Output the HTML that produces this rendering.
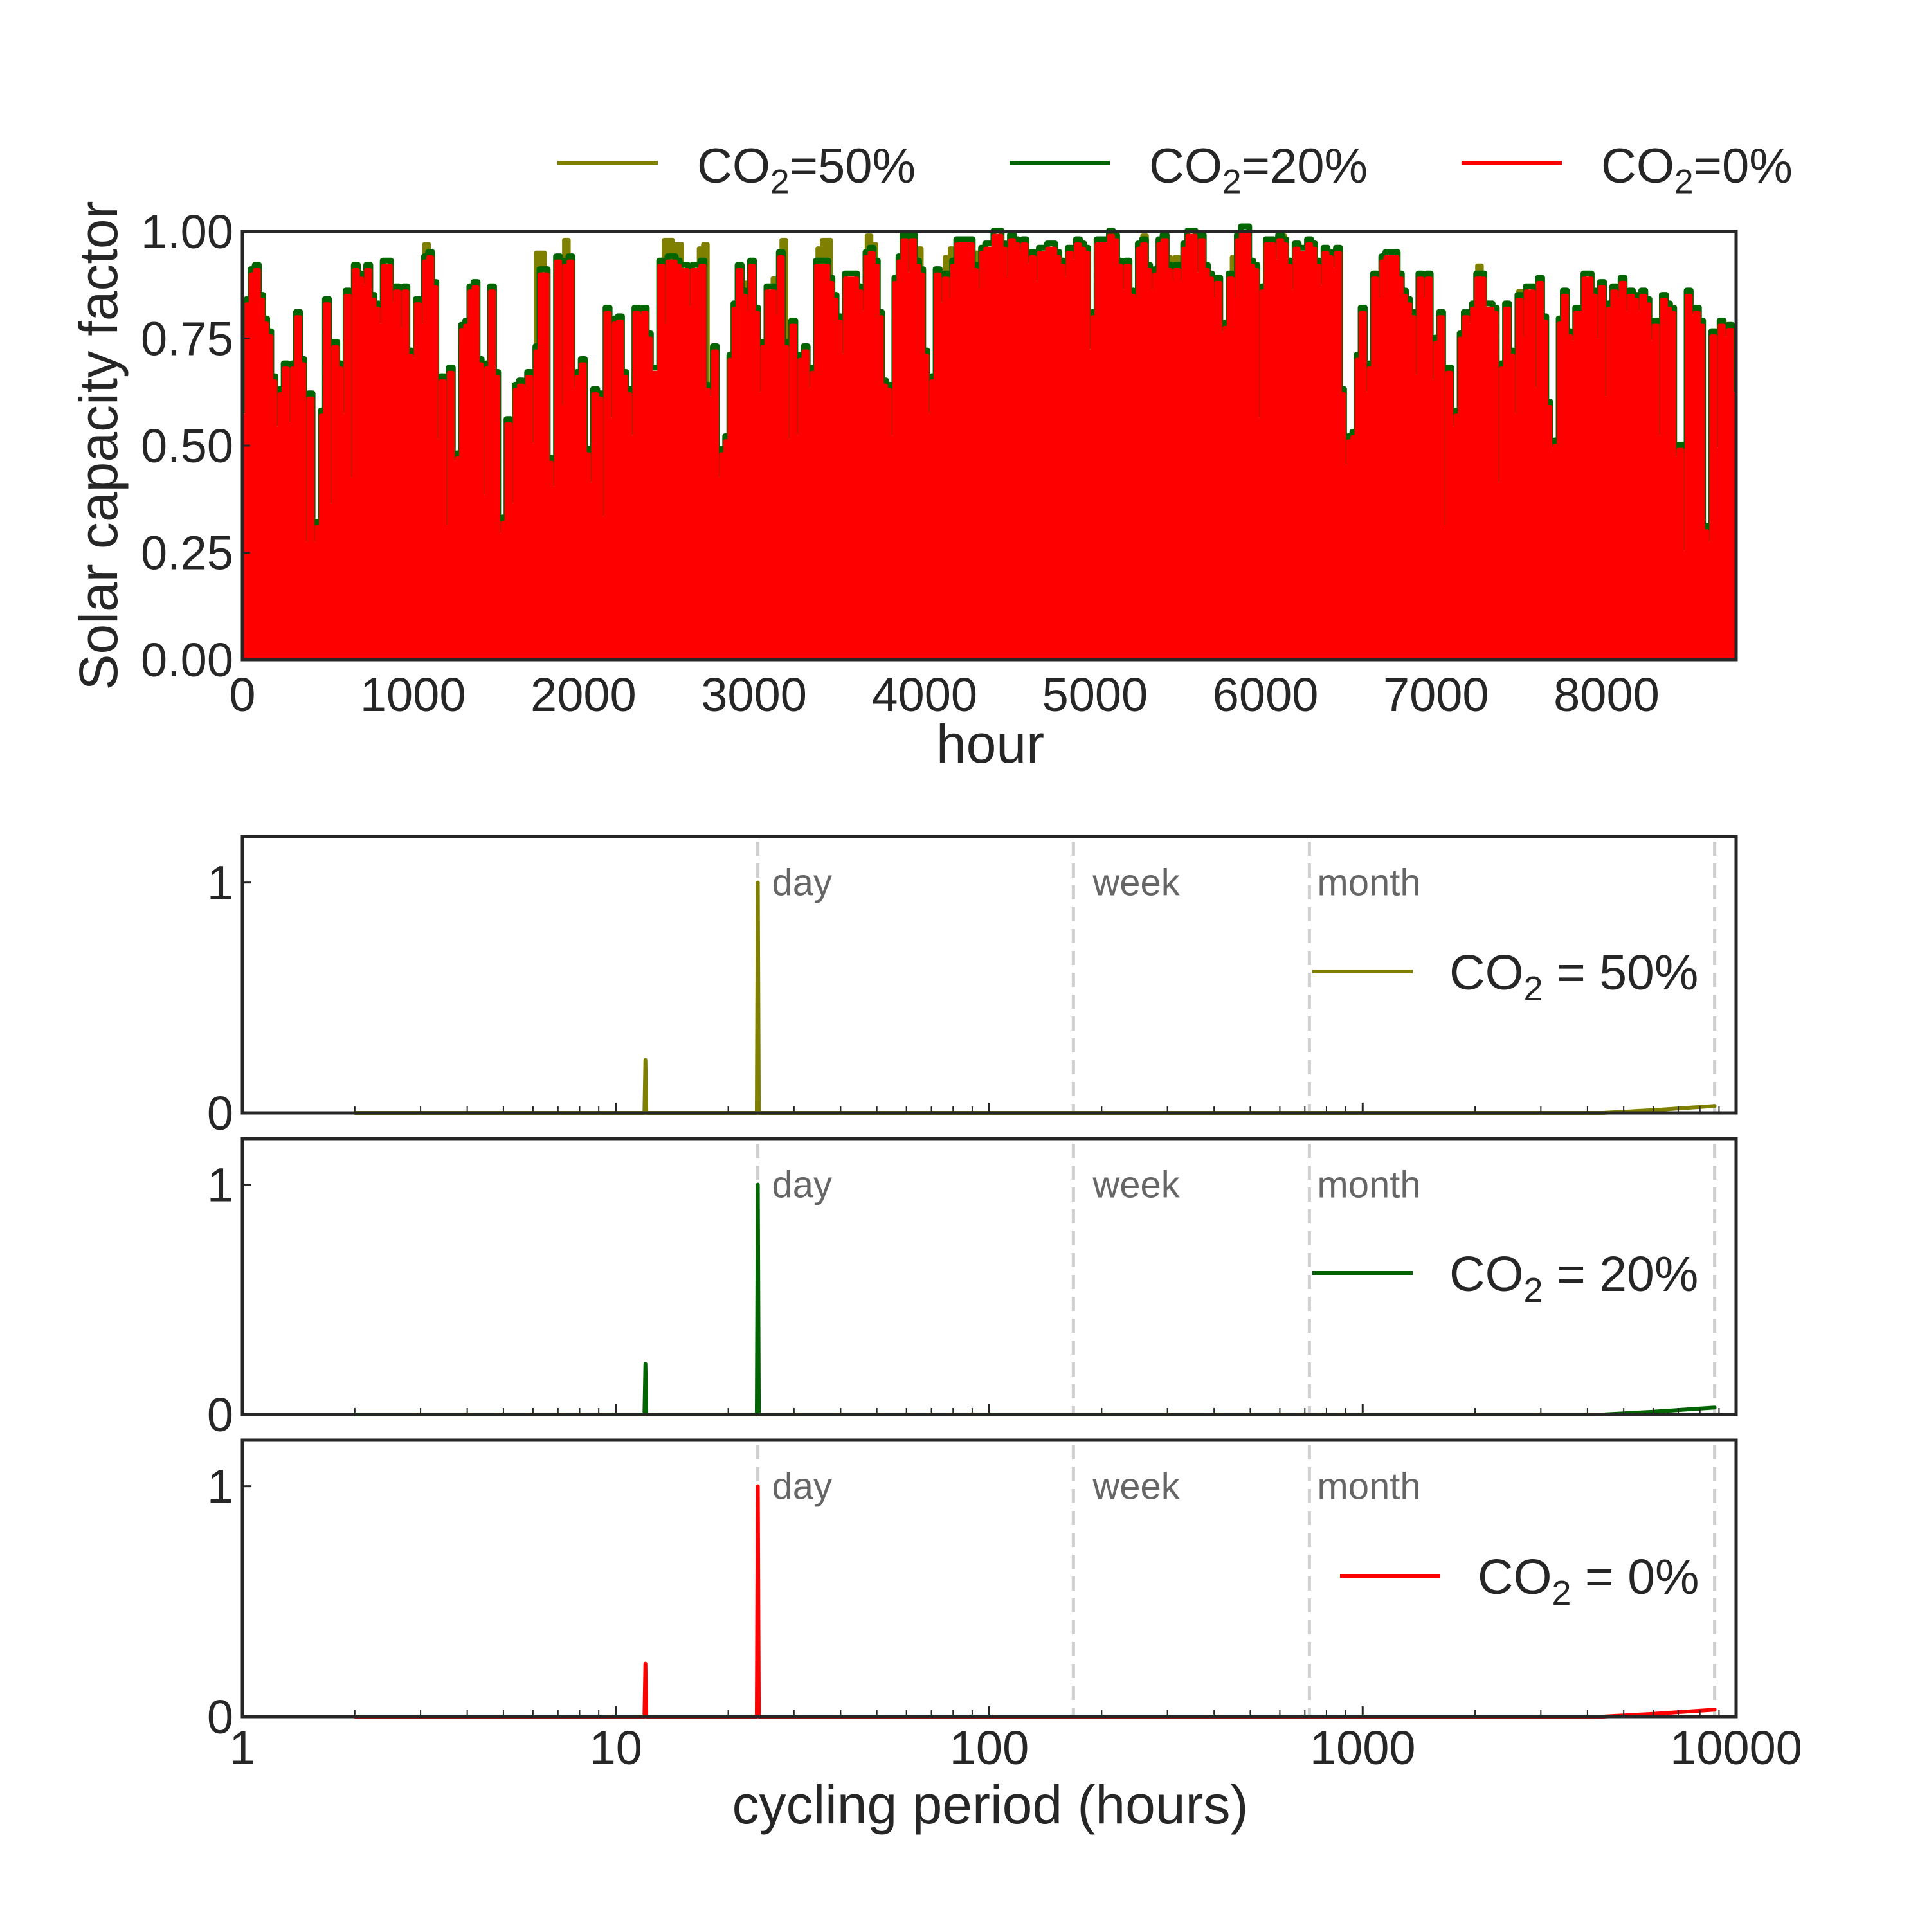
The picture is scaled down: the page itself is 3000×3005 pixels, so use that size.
<!DOCTYPE html>
<html><head><meta charset="utf-8"><style>
html,body{margin:0;padding:0;background:#fff;}
svg text{font-family:"Liberation Sans","DejaVu Sans",sans-serif;fill:#262626;}
</style></head><body>
<svg id="chart" xmlns="http://www.w3.org/2000/svg" width="3000" height="3000" viewBox="0 0 3000 3000">
<rect width="3000" height="3000" fill="#fff"/>
<g id="topchart"></g><g id="bottom"></g>
</svg>
<script>
// ---- data: daily capacity factor (CO2=0%), ~24h steps ----
const cf0 = [0.57,0.83,0.90,0.91,0.84,0.785,0.755,0.65,0.54,0.62,0.68,0.55,0.68,0.80,0.69,0.27,0.61,0.27,0.31,0.57,0.83,0.36,0.73,0.68,0.57,0.85,0.42,0.91,0.89,0.87,0.91,0.84,0.82,0.78,0.92,0.92,0.83,0.86,0.77,0.86,0.71,0.70,0.83,0.78,0.93,0.94,0.87,0.51,0.65,0.31,0.67,0.46,0.47,0.77,0.78,0.86,0.87,0.69,0.38,0.68,0.86,0.66,0.29,0.32,0.55,0.36,0.63,0.64,0.63,0.66,0.50,0.72,0.90,0.90,0.46,0.40,0.93,0.59,0.92,0.93,0.63,0.66,0.69,0.48,0.41,0.62,0.61,0.33,0.81,0.56,0.785,0.79,0.66,0.62,0.52,0.81,0.80,0.81,0.75,0.67,0.67,0.92,0.78,0.93,0.93,0.92,0.91,0.91,0.82,0.91,0.91,0.92,0.63,0.61,0.72,0.42,0.48,0.51,0.70,0.82,
0.91,0.85,0.81,0.92,0.81,0.62,0.73,0.86,0.86,0.80,0.94,0.73,0.51,0.78,0.52,0.70,0.72,0.63,0.67,0.92,0.92,0.92,0.88,0.84,0.79,0.71,0.89,0.89,0.89,0.86,0.81,0.94,0.95,0.92,0.80,0.64,0.63,0.52,0.88,0.93,0.98,0.90,0.98,0.92,0.90,0.71,0.57,0.65,0.90,0.83,0.89,0.84,0.92,0.97,0.97,0.97,0.97,0.91,0.86,0.95,0.96,0.96,0.99,0.99,0.96,0.89,0.98,0.97,0.95,0.97,0.92,0.94,0.88,0.95,0.95,0.96,0.96,0.94,0.92,0.89,0.95,0.93,0.97,0.96,0.95,0.72,0.80,0.97,0.97,0.97,0.99,0.98,0.92,0.86,0.92,0.85,0.84,0.96,0.97,0.91,0.86,0.90,0.97,0.98,0.91,0.88,0.91,0.88,0.96,0.99,0.99,0.90,0.98,0.91,0.89,0.84,0.88,0.76,0.775,0.89,0.84,
0.98,1.0,1.0,0.92,0.91,0.56,0.86,0.97,0.97,0.93,0.98,0.97,0.92,0.86,0.96,0.95,0.95,0.97,0.96,0.92,0.87,0.95,0.94,0.91,0.95,0.62,0.45,0.51,0.52,0.70,0.81,0.62,0.68,0.89,0.84,0.93,0.94,0.94,0.94,0.89,0.85,0.83,0.80,0.66,0.89,0.84,0.89,0.65,0.74,0.80,0.31,0.67,0.54,0.57,0.75,0.80,0.78,0.82,0.89,0.89,0.82,0.82,0.81,0.41,0.68,0.82,0.71,0.57,0.84,0.75,0.86,0.86,0.63,0.88,0.79,0.59,0.49,0.50,0.785,0.85,0.755,0.74,0.81,0.81,0.89,0.89,0.85,0.745,0.87,0.61,0.82,0.86,0.84,0.88,0.81,0.85,0.84,0.81,0.85,0.83,0.74,0.78,0.52,0.84,0.82,0.81,0.47,0.49,0.25,0.85,0.80,0.81,0.78,0.30,0.27,0.755,0.49,0.78,0.75,0.77,0.62];
// CO2=50% days that exceed the 0% curve: hours and values
const peak50Hours = [80,1080,1735,1760,1900,2485,2510,2540,2565,2600,2690,2715,2955,3123,3175,3386,3412,3438,3675,3704,3970,4133,4162,4306,5291,5432,5480,5647,5816,6102,7255,7495];
const peak50Vals  = [0.92,0.97,0.95,0.95,0.98,0.98,0.98,0.97,0.97,0.85,0.96,0.97,0.88,0.89,0.98,0.96,0.98,0.98,0.99,0.97,0.96,0.94,0.96,0.95,0.99,0.94,0.94,0.92,0.94,0.99,0.92,0.86];
const xTicksTop = [0,1000,2000,3000,4000,5000,6000,7000,8000];
const yTicksTop = [0,0.25,0.5,0.75,1.0];
const yTickLabelsTop = ["0.00","0.25","0.50","0.75","1.00"];
// spectra
const specPeriods = [2,11.93,12,12.07,23.85,24,24.15,100,1000,4400,6000,8760];
const spec50 = [0,0,0.23,0,0,1.0,0,0,0,0,0.012,0.03];
const spec20 = [0,0,0.22,0,0,1.0,0,0,0,0,0.012,0.03];
const spec0  = [0,0,0.23,0,0,1.0,0,0,0,0,0.012,0.03];
const markPeriods = [24,168,720,8760];
const markLabels = ["day","week","month",""];
const xTickVals = [1,10,100,1000,10000];
const xTickLabels = ["1","10","100","1000","10000"];

const NS="http://www.w3.org/2000/svg";
function mk(parent,tag,attrs,name){const e=document.createElementNS(NS,tag);for(const k in attrs)e.setAttribute(k,attrs[k]);


parent.appendChild(e);return e;}
function txt(parent,x,y,s,size,anchor,name,extra){const t=mk(parent,'text',Object.assign({x:x,y:y,'font-size':size,'text-anchor':anchor||'start'},extra||{}),name);t.textContent=s;return t;}
function co2(parent,x,y,pre,post,size,anchor,name){const t=mk(parent,'text',{x:x,y:y,'font-size':size,'text-anchor':anchor||'start'},name);
t.appendChild(document.createTextNode(pre));const s=document.createElementNS(NS,'tspan');s.setAttribute('font-size',size*0.7);s.setAttribute('dy',size*0.22);s.textContent='2';t.appendChild(s);
const s2=document.createElementNS(NS,'tspan');s2.setAttribute('dy',-size*0.22);s2.textContent=post;t.appendChild(s2);return t;}

// ---- top chart ----
const topG=document.getElementById('topchart');
const TL=377,TR=2700,TT=360,TB=1026;
const xh=h=>TL+h/8760*(TR-TL), yv=v=>TB-v*(TB-TT);
const step=8760/cf0.length;
const clip=mk(topG,'clipPath',{id:'tc'},'top-clip');mk(clip,'rect',{x:TL,y:TT-20,width:TR-TL,height:TB-TT+20},'clip-rect');
const g=mk(topG,'g',{'clip-path':'url(#tc)'},'top-plot-area');
peak50Hours.forEach((h,i)=>{
  mk(g,'path',{d:`M${xh(h-step/2)},${TB} L${xh(h-step/2)},${yv(peak50Vals[i])} L${xh(h+step/2)},${yv(peak50Vals[i])} L${xh(h+step/2)},${TB}Z`,fill:'#808000',stroke:'#808000','stroke-width':7,'stroke-linejoin':'round'},'co2-50-peak');
});
let dG='',dR='';
cf0.forEach((v,i)=>{const x0=xh(i*step),x1=xh((i+1)*step);
  dG+=(i?'L':'M')+x0+','+yv(v+0.012)+' L'+x1+','+yv(v+0.012)+' ';
  dR+='L'+x0+','+yv(v)+' L'+x1+','+yv(v)+' ';});
mk(g,'path',{d:dG,fill:'none',stroke:'#006400','stroke-width':9,'stroke-linejoin':'round','stroke-linecap':'round'},'co2-20-line');
mk(g,'path',{d:'M'+TL+','+TB+' '+dR+' L'+TR+','+TB+'Z',fill:'#ff0000',stroke:'#ff0000','stroke-width':6,'stroke-linejoin':'round'},'co2-0-area');
mk(topG,'rect',{x:TL,y:TT,width:TR-TL,height:TB-TT,fill:'none',stroke:'#262626','stroke-width':5},'top-frame');
yTicksTop.forEach((v,i)=>{mk(topG,'line',{x1:TL,x2:TL+12,y1:yv(v),y2:yv(v),stroke:'#262626','stroke-width':3},'y-tick');
  txt(topG,TL-14,yv(v)+26,yTickLabelsTop[i],74,'end','y-tick-label');});
xTicksTop.forEach(h=>txt(topG,xh(h),TB+80,String(h),74,'middle','x-tick-label'));
txt(topG,1540,1186,'hour',84,'middle','x-axis-title');
txt(topG,0,0,'Solar capacity factor',84,'middle','y-axis-title',{transform:'translate(182,693) rotate(-90)'});
const legendItems=[['#808000',867,'=50%'],['#006400',1570,'=20%'],['#ff0000',2273,'=0%']];
legendItems.forEach(l=>{mk(topG,'line',{x1:l[1],x2:l[1]+156,y1:253,y2:253,stroke:l[0],'stroke-width':6},'legend-line');
  co2(topG,l[1]+217,284,'CO',l[2],76,'start','legend-entry');});

// ---- bottom panels ----
const bot=document.getElementById('bottom');
const BL=377,BR=2700,dec=(BR-BL)/4;
const lx=p=>BL+Math.log10(p)*dec;
const panels=[{t:1301,b:1731,c:'#808000',s:spec50,lab:' = 50%',lx:2041,tx:2254,ly:1511},
              {t:1771,b:2200,c:'#006400',s:spec20,lab:' = 20%',lx:2041,tx:2254,ly:1980},
              {t:2240,b:2670,c:'#ff0000',s:spec0,lab:' = 0%',lx:2084,tx:2298,ly:2451}];
const labOff=[22,30,12,0];
panels.forEach((P,pi)=>{
  const py=v=>P.b-v*(P.b-P.t)/1.2;
  const pg=mk(bot,'g',{},'spectrum-panel-'+pi);
  markPeriods.forEach((m,i)=>{mk(pg,'line',{x1:lx(m),x2:lx(m),y1:P.t+8,y2:P.b,stroke:'#cfcfcf','stroke-width':5,'stroke-dasharray':'22,12'},'period-marker');
    if(markLabels[i])txt(pg,lx(m)+labOff[i],py(1)+20,markLabels[i],58,'start','period-label',{style:'fill:#666'});});
  let d='';specPeriods.forEach((p,i)=>{d+=(i?'L':'M')+lx(p)+','+py(P.s[i])+' ';});
  mk(pg,'path',{d:d,fill:'none',stroke:P.c,'stroke-width':6,'stroke-linejoin':'round','stroke-linecap':'round'},'spectrum-line');
  mk(pg,'rect',{x:BL,y:P.t,width:BR-BL,height:P.b-P.t,fill:'none',stroke:'#262626','stroke-width':5},'panel-frame');
  for(let k=0;k<4;k++)for(let m=2;m<10;m++){const x=lx(m*Math.pow(10,k));mk(pg,'line',{x1:x,x2:x,y1:P.b,y2:P.b-10,stroke:'#262626','stroke-width':2},'minor-tick');}
  xTickVals.forEach(v=>mk(pg,'line',{x1:lx(v),x2:lx(v),y1:P.b,y2:P.b-16,stroke:'#262626','stroke-width':3},'major-tick'));
  [0,1].forEach(v=>{mk(pg,'line',{x1:BL,x2:BL+14,y1:py(v),y2:py(v),stroke:'#262626','stroke-width':3},'y-tick');
    txt(pg,BL-14,py(v)+26,String(v),74,'end','y-tick-label');});
  mk(pg,'line',{x1:P.lx,x2:P.lx+156,y1:P.ly,y2:P.ly,stroke:P.c,'stroke-width':6},'panel-legend-line');
  co2(pg,P.tx,P.ly+28,'CO',P.lab,77,'start','panel-legend-entry');
});
xTickVals.forEach((v,i)=>txt(bot,lx(v),2744,xTickLabels[i],74,'middle','x-tick-label'));
txt(bot,1540,2836,'cycling period (hours)',84,'middle','x-axis-title');
</script>
</body></html>
